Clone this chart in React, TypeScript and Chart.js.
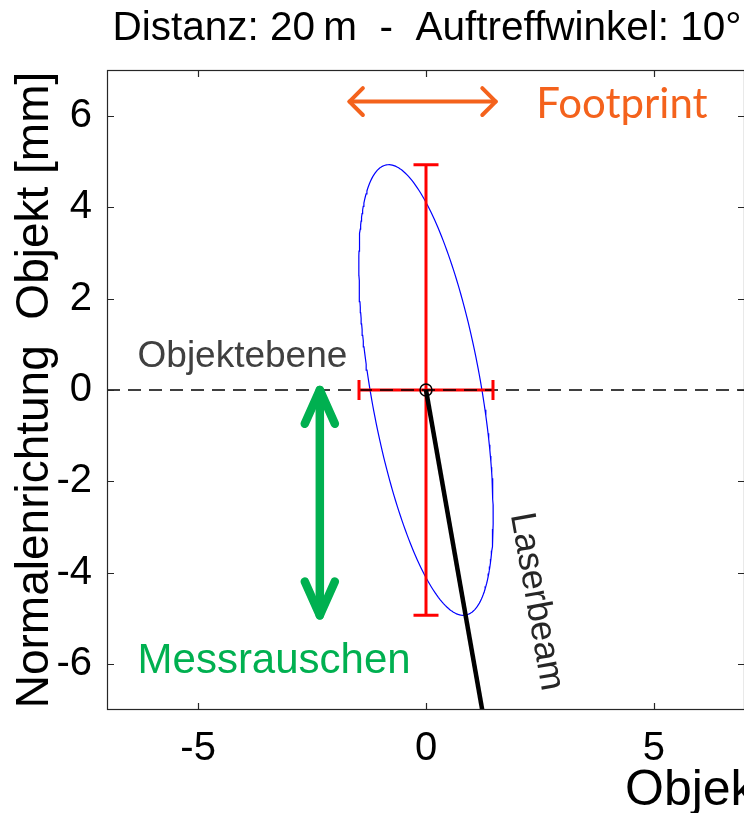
import React, { useEffect, useRef } from "react";
import { Chart, registerables } from "chart.js";

Chart.register(...registerables);

// ---- texts ----
const titleText = "Distanz: 20\u2009m  -  Auftreffwinkel: 10°";
const yAxisTitle = "Normalenrichtung  Objekt [mm]";
const xAxisTitle = "Objektebene [mm]";

// ---- axes ----
const xLimits = [-7, 7];
const yLimits = [-7, 7];
const xTickValues = [-5, 0, 5];
const yTickValues = [-6, -4, -2, 0, 2, 4, 6];

// ---- measurement: point, standard deviations, error ellipse ----
const centreX = 0;
const centreY = 0;
const errorHalfWidth = 1.47; // lateral extent (footprint)
const errorHalfHeight = 4.93; // extent along the normal (noise)
const ellipseSemiMajor = 5.0;
const ellipseSemiMinor = 1.21;
const incidenceAngleDeg = 10;

// ---- laser beam and object plane ----
const laserBeamX = [0, 1.234];
const laserBeamY = [0, -7];
const objectPlaneX = [-7, 7];
const objectPlaneY = [0, 0];

// ---- annotation arrows ----
const footprintArrowX = [-1.68, 1.53];
const footprintArrowY = 6.31;
const noiseArrowX = -2.33;
const noiseArrowY = [0, -4.93];

const FONT = "'Liberation Sans', Arial, sans-serif";

function ellipseOutline() {
  const t = (incidenceAngleDeg * Math.PI) / 180;
  const pts: { x: number; y: number }[] = [];
  const n = 240;
  for (let i = 0; i <= n; i++) {
    const a = (i / n) * 2 * Math.PI;
    const u = ellipseSemiMajor * Math.cos(a);
    const v = ellipseSemiMinor * Math.sin(a);
    pts.push({
      x: centreX - u * Math.sin(t) + v * Math.cos(t),
      y: centreY + u * Math.cos(t) + v * Math.sin(t),
    });
  }
  return pts;
}

function drawDoubleArrow(
  ctx: CanvasRenderingContext2D,
  x0: number,
  y0: number,
  x1: number,
  y1: number,
  width: number,
  headLen: number,
  headAngle: number,
  color: string
) {
  ctx.save();
  ctx.strokeStyle = color;
  ctx.lineWidth = width;
  ctx.lineCap = "round";
  ctx.lineJoin = "round";
  ctx.beginPath();
  ctx.moveTo(x0, y0);
  ctx.lineTo(x1, y1);
  ctx.stroke();
  const ang = Math.atan2(y1 - y0, x1 - x0);
  const head = (tx: number, ty: number, dir: number) => {
    ctx.beginPath();
    ctx.moveTo(tx - headLen * Math.cos(dir - headAngle), ty - headLen * Math.sin(dir - headAngle));
    ctx.lineTo(tx, ty);
    ctx.lineTo(tx - headLen * Math.cos(dir + headAngle), ty - headLen * Math.sin(dir + headAngle));
    ctx.stroke();
  };
  head(x1, y1, ang);
  head(x0, y0, ang + Math.PI);
  ctx.restore();
}

const decorPlugin = {
  id: "decor",
  afterDatasetsDraw(chart: any) {
    const { ctx, chartArea: ca, scales } = chart;
    const xs = scales.x;
    const ys = scales.y;
    const px = (v: number) => xs.getPixelForValue(v);
    const py = (v: number) => ys.getPixelForValue(v);

    // error bar caps
    ctx.save();
    ctx.strokeStyle = "#ff0000";
    ctx.lineWidth = 3;
    ctx.beginPath();
    for (const s of [-1, 1]) {
      const yy = py(centreY + s * errorHalfHeight);
      ctx.moveTo(px(centreX) - 12.5, yy);
      ctx.lineTo(px(centreX) + 12.5, yy);
      const xx = px(centreX + s * errorHalfWidth);
      ctx.moveTo(xx, py(centreY) - 10);
      ctx.lineTo(xx, py(centreY) + 10);
    }
    ctx.stroke();
    ctx.restore();

    // arrows
    drawDoubleArrow(
      ctx,
      px(footprintArrowX[0]),
      py(footprintArrowY),
      px(footprintArrowX[1]),
      py(footprintArrowY),
      4,
      19,
      Math.PI / 4,
      "#f4621c"
    );
    drawDoubleArrow(
      ctx,
      px(noiseArrowX),
      py(noiseArrowY[0]),
      px(noiseArrowX),
      py(noiseArrowY[1]),
      8.5,
      37,
      (24 * Math.PI) / 180,
      "#00b050"
    );

    // annotation texts
    ctx.save();
    ctx.textAlign = "left";
    ctx.textBaseline = "alphabetic";
    ctx.fillStyle = "#f4621c";
    ctx.font = "42px Lato, 'Open Sans', sans-serif";
    ctx.fillText("Footprint", px(2.42), py(5.96));
    ctx.fillStyle = "#00b050";
    ctx.font = `42px ${FONT}`;
    ctx.fillText("Messrauschen", px(-6.33), py(-6.2));
    ctx.fillStyle = "#404040";
    ctx.font = `37px ${FONT}`;
    ctx.fillText("Objektebene", px(-6.33), py(0.51));
    ctx.translate(px(2.42), py(-4.63));
    ctx.rotate((80 * Math.PI) / 180);
    ctx.textAlign = "center";
    ctx.textBaseline = "middle";
    ctx.fillStyle = "#262626";
    ctx.font = `36px ${FONT}`;
    ctx.fillText("Laserbeam", 0, 0);
    ctx.restore();

    // axes box with inward ticks
    ctx.save();
    ctx.strokeStyle = "#262626";
    ctx.lineWidth = 1.2;
    ctx.strokeRect(ca.left + 0.5, ca.top + 0.5, ca.right - ca.left - 1, ca.bottom - ca.top - 1);
    ctx.beginPath();
    const tl = 7;
    for (const v of xTickValues) {
      const x = Math.round(px(v)) + 0.5;
      ctx.moveTo(x, ca.bottom);
      ctx.lineTo(x, ca.bottom - tl);
      ctx.moveTo(x, ca.top);
      ctx.lineTo(x, ca.top + tl);
    }
    for (const v of yTickValues) {
      const y = Math.round(py(v)) + 0.5;
      ctx.moveTo(ca.left, y);
      ctx.lineTo(ca.left + tl, y);
      ctx.moveTo(ca.right, y);
      ctx.lineTo(ca.right - tl, y);
    }
    ctx.stroke();
    ctx.restore();
  },
  afterDraw(chart: any) {
    const { ctx, chartArea: ca } = chart;
    ctx.save();
    ctx.fillStyle = "#000";
    ctx.font = `40.5px ${FONT}`;
    ctx.textAlign = "center";
    ctx.textBaseline = "middle";
    ctx.fillText(titleText, (ca.left + ca.right) / 2 + 1, 29);

    ctx.font = `50px ${FONT}`;
    ctx.textAlign = "left";
    ctx.fillText(xAxisTitle, 625, 791);

    ctx.font = `46px ${FONT}`;
    ctx.translate(35, (ca.top + ca.bottom) / 2);
    ctx.rotate(-Math.PI / 2);
    ctx.textAlign = "center";
    ctx.fillText(yAxisTitle, 0, 0);
    ctx.restore();
  },
};

export default function App() {
  const ref = useRef<HTMLCanvasElement | null>(null);

  useEffect(() => {
    const canvas = ref.current;
    if (!canvas) return;
    const xy = (xsArr: number[], ysArr: number[]) => xsArr.map((x, i) => ({ x, y: ysArr[i] }));

    const chart = new Chart(canvas, {
      type: "scatter",
      data: {
        datasets: [
          {
            label: "Messpunkt",
            data: [{ x: centreX, y: centreY }],
            pointRadius: 6,
            pointBorderWidth: 1.5,
            pointBorderColor: "#000",
            pointBackgroundColor: "rgba(0,0,0,0)",
            showLine: false,
            order: 1,
          },
          {
            label: "Laserbeam",
            data: xy(laserBeamX, laserBeamY),
            showLine: true,
            borderColor: "#000",
            borderWidth: 4.5,
            pointRadius: 0,
            order: 2,
          },
          {
            label: "Objektebene",
            data: xy(objectPlaneX, objectPlaneY),
            showLine: true,
            borderColor: "#000",
            borderWidth: 1.5,
            borderDash: [13, 8],
            pointRadius: 0,
            order: 3,
          },
          {
            label: "Fehlerbalken",
            data: [
              { x: centreX, y: centreY - errorHalfHeight },
              { x: centreX, y: centreY + errorHalfHeight },
              { x: NaN, y: NaN },
              { x: centreX - errorHalfWidth, y: centreY },
              { x: centreX + errorHalfWidth, y: centreY },
            ],
            showLine: true,
            spanGaps: false,
            borderColor: "#ff0000",
            borderWidth: 3,
            pointRadius: 0,
            order: 4,
          },
          {
            label: "Fehlerellipse",
            data: ellipseOutline(),
            showLine: true,
            borderColor: "#0000ff",
            borderWidth: 1.2,
            pointRadius: 0,
            order: 5,
          },
        ],
      },
      options: {
        responsive: false,
        animation: false,
        events: [],
        layout: { padding: { left: 0, top: 70, right: 55, bottom: 0 } },
        plugins: { legend: { display: false }, tooltip: { enabled: false }, title: { display: false } },
        scales: {
          x: {
            type: "linear",
            min: xLimits[0],
            max: xLimits[1],
            grid: { display: false, drawTicks: false },
            border: { display: false },
            afterBuildTicks: (s: any) => {
              s.ticks = xTickValues.map((v) => ({ value: v }));
            },
            afterFit: (s: any) => {
              s.height = 103;
            },
            ticks: {
              color: "#000",
              padding: 15,
              font: { family: FONT, size: 40 },
              callback: (v: any) => String(v),
            },
          },
          y: {
            type: "linear",
            min: yLimits[0],
            max: yLimits[1],
            grid: { display: false, drawTicks: false },
            border: { display: false },
            afterBuildTicks: (s: any) => {
              s.ticks = yTickValues.map((v) => ({ value: v }));
            },
            afterFit: (s: any) => {
              s.width = 107;
            },
            ticks: {
              color: "#000",
              padding: 15,
              font: { family: FONT, size: 40 },
              callback: (v: any) => String(v),
            },
          },
        },
      },
      plugins: [decorPlugin],
    });
    return () => chart.destroy();
  }, []);

  return (
    <div
      style={{
        position: "fixed",
        left: 0,
        top: 0,
        width: 744,
        height: 813,
        overflow: "hidden",
        background: "#fff",
      }}
    >
      <canvas ref={ref} width={800} height={813} style={{ width: 800, height: 813, display: "block" }} />
    </div>
  );
}
